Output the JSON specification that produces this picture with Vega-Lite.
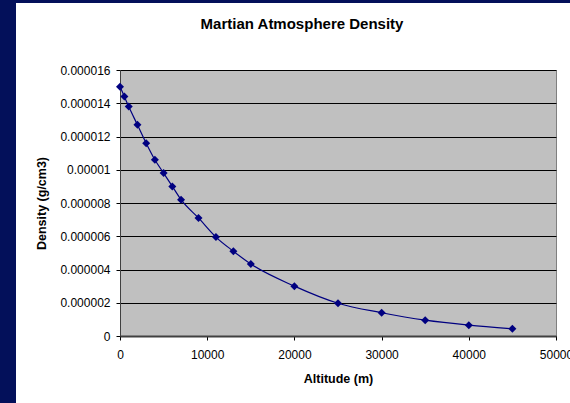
{
  "$schema": "https://vega.github.io/schema/vega-lite/v6.json",
  "background": "white",
  "padding": 0,
  "autosize": {"type": "pad"},
  "bounds": "flush",
  "spacing": 0,
  "config": {
    "font": "Liberation Sans",
    "view": {"stroke": null}
  },
  "vconcat": [
    {
      "width": 570,
      "height": 3,
      "data": {"values": []},
      "mark": "rect",
      "view": {"fill": "#03105a", "stroke": null}
    },
    {
      "bounds": "flush",
      "spacing": 104,
      "hconcat": [
        {
          "width": 16,
          "height": 400,
          "data": {"values": []},
          "mark": "rect",
          "view": {"fill": "#03105a", "stroke": null}
        },
        {
          "bounds": "flush",
          "spacing": 66,
          "vconcat": [
            {
              "width": 436,
              "height": 1,
              "data": {"values": []},
              "mark": "rect",
              "view": {"fill": null, "stroke": null}
            },
            {
              "width": 436,
              "height": 266,
              "data": {
                "values": [
                  {"altitude": 0, "density": 1.50e-5},
                  {"altitude": 500, "density": 1.44e-5},
                  {"altitude": 1000, "density": 1.38e-5},
                  {"altitude": 2000, "density": 1.27e-5},
                  {"altitude": 3000, "density": 1.16e-5},
                  {"altitude": 4000, "density": 1.06e-5},
                  {"altitude": 5000, "density": 9.8e-6},
                  {"altitude": 6000, "density": 9.0e-6},
                  {"altitude": 7000, "density": 8.2e-6},
                  {"altitude": 9000, "density": 7.1e-6},
                  {"altitude": 11000, "density": 5.95e-6},
                  {"altitude": 13000, "density": 5.1e-6},
                  {"altitude": 15000, "density": 4.33e-6},
                  {"altitude": 20000, "density": 3.0e-6},
                  {"altitude": 25000, "density": 1.97e-6},
                  {"altitude": 30000, "density": 1.40e-6},
                  {"altitude": 35000, "density": 0.95e-6},
                  {"altitude": 40000, "density": 0.65e-6},
                  {"altitude": 45000, "density": 0.43e-6}
                ]
              },
              "title": {
                "text": "Martian Atmosphere Density",
                "font": "Liberation Sans",
                "fontSize": 15,
                "fontWeight": "bold",
                "color": "black",
                "frame": "group",
                "anchor": "middle",
                "baseline": "alphabetic",
                "offset": 20,
                "dx": -36
              },
              "view": {"fill": "#c0c0c0", "stroke": "#808080", "strokeWidth": 1},
              "encoding": {
                "x": {
                  "field": "altitude",
                  "type": "quantitative",
                  "scale": {"domain": [0, 50000], "nice": false},
                  "axis": {
                    "title": "Altitude (m)",
                    "titleFont": "Liberation Sans",
                    "titleFontSize": 12.5,
                    "titleFontWeight": "bold",
                    "titleColor": "black",
                    "titlePadding": 12,
                    "values": [0, 10000, 20000, 30000, 40000, 50000],
                    "format": "d",
                    "grid": false,
                    "domainColor": "#404040",
                    "domainWidth": 2,
                    "tickColor": "black",
                    "tickSize": 4,
                    "labelFont": "Liberation Sans",
                    "labelFontSize": 12,
                    "labelColor": "black",
                    "labelPadding": 9,
                    "labelFlush": false,
                    "labelOverlap": false
                  }
                },
                "y": {
                  "field": "density",
                  "type": "quantitative",
                  "scale": {"domain": [0, 0.000016], "nice": false},
                  "axis": {
                    "title": "Density (g/cm3)",
                    "titleFont": "Liberation Sans",
                    "titleFontSize": 12.5,
                    "titleFontWeight": "bold",
                    "titleColor": "black",
                    "titlePadding": 11,
                    "values": [0, 0.000002, 0.000004, 0.000006, 0.000008, 0.00001, 0.000012, 0.000014, 0.000016],
                    "format": ".6~f",
                    "grid": true,
                    "gridColor": "black",
                    "gridWidth": 1,
                    "domainColor": "#404040",
                    "domainWidth": 1,
                    "tickColor": "black",
                    "tickSize": 4,
                    "labelFont": "Liberation Sans",
                    "labelFontSize": 12,
                    "labelColor": "black",
                    "labelPadding": 6,
                    "labelFlush": false,
                    "labelOverlap": false
                  }
                }
              },
              "layer": [
                {
                  "mark": {"type": "line", "color": "#000080", "strokeWidth": 1.2, "interpolate": "monotone"}
                },
                {
                  "mark": {"type": "point", "shape": "diamond", "filled": true, "color": "#000080", "size": 64, "opacity": 1}
                }
              ]
            }
          ]
        }
      ]
    }
  ]
}
